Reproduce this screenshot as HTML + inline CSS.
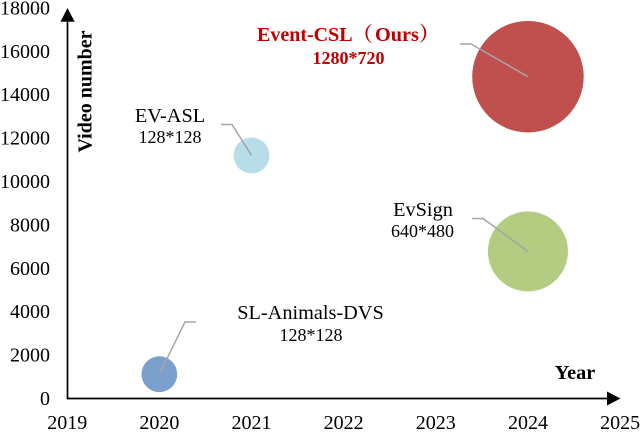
<!DOCTYPE html>
<html lang="en">
<head>
<meta charset="utf-8">
<title>Video number by year</title>
<style>
html,body{margin:0;padding:0;background:#fff;}
body{width:640px;height:432px;overflow:hidden;}
svg{display:block;filter:blur(0.35px);}
text{font-family:"Liberation Serif","Noto Serif CJK SC",serif;fill:#000;}
</style>
</head>
<body>
<svg id="chart" width="640" height="432" viewBox="0 0 640 432" xmlns="http://www.w3.org/2000/svg"></svg>
<script>
const yearTicks = [2019, 2020, 2021, 2022, 2023, 2024, 2025];
const videoTicks = [0, 2000, 4000, 6000, 8000, 10000, 12000, 14000, 16000, 18000];
const seriesNames = ["sl-animals-dvs", "ev-asl", "evsign", "event-csl"];
const seriesYears = [2020, 2021, 2024, 2024];
const seriesVideos = [1120, 11200, 6780, 14830];
const seriesSizes = [1, 1, 5, 9.7];

const seriesColors = ["#7ba0cd", "#b7dde8", "#b3cc82", "#c0504d"];
const leaderElbows = [[185, 322, 196, 322], [232, 124.5, 221, 124.5], [483, 218.5, 472, 218.5], [471, 44, 460, 44]];

const NS = "http://www.w3.org/2000/svg";
const svg = document.getElementById("chart");
const xScale = v => 67.2 + (v - 2019) * 92.15;
const yScale = v => 398.5 - v * 0.0217;
const rScale = s => 17.9 * Math.sqrt(s);

function make(tag, attrs, text) {
  const el = document.createElementNS(NS, tag);
  for (const k in attrs) el.setAttribute(k, attrs[k]);
  if (text !== undefined) el.textContent = text;
  svg.appendChild(el);
  return el;
}

seriesNames.forEach((name, i) => {
  const c = make("circle", {cx: xScale(seriesYears[i]), cy: yScale(seriesVideos[i]), r: rScale(seriesSizes[i]), fill: seriesColors[i]});
  
  
});

seriesNames.forEach((name, i) => {
  const e = leaderElbows[i];
  const p = make("polyline", {points: xScale(seriesYears[i]) + "," + yScale(seriesVideos[i]) + " " + e[0] + "," + e[1] + " " + e[2] + "," + e[3], fill: "none", stroke: "#a6a6a6", "stroke-width": 1.5});
  
  
});

const yAxis = make("line", {x1: 67.5, y1: 18, x2: 67.5, y2: 399.3, stroke: "#000", "stroke-width": 1.7});


const xAxis = make("line", {x1: 67, y1: 398.5, x2: 610, y2: 398.5, stroke: "#000", "stroke-width": 1.7});


const yArrow = make("polygon", {points: "67.5,8 74.7,21.7 60.5,21.7", fill: "#000"});


const xArrow = make("polygon", {points: "620.5,398.5 607,391.5 607,405.5", fill: "#000"});



videoTicks.forEach(v => {
  const t = make("text", {x: 50, y: yScale(v) + 6.5, "text-anchor": "end", "font-size": 20}, String(v));
  
  
});
yearTicks.forEach(v => {
  const t = make("text", {x: xScale(v), y: 429, "text-anchor": "middle", "font-size": 20}, String(v));
  
  
});

const yTitle = make("text", {transform: "translate(91.5,91.5) rotate(-90)", "text-anchor": "middle", "font-size": 20, "font-weight": "bold"}, "Video number");


const xTitle = make("text", {x: 575, y: 379, "text-anchor": "middle", "font-size": 20.3, "font-weight": "bold"}, "Year");



const l1 = make("text", {x: 170, y: 122, "text-anchor": "middle", "font-size": 20.3}, "EV-ASL");


const l2 = make("text", {x: 170, y: 143, "text-anchor": "middle", "font-size": 18}, "128*128");


const l3 = make("text", {x: 257, y: 41, "font-size": 20, "font-weight": "bold", style: "fill:#c00000"}, "Event-CSL（");


const l3b = make("text", {x: 375, y: 41, "font-size": 20.3, "font-weight": "bold", style: "fill:#c00000"}, "Ours）");


const l4 = make("text", {x: 348.5, y: 64, "text-anchor": "middle", "font-size": 18, "font-weight": "bold", style: "fill:#c00000"}, "1280*720");


const l5 = make("text", {x: 423, y: 216, "text-anchor": "middle", "font-size": 20.3}, "EvSign");


const l6 = make("text", {x: 422.5, y: 237, "text-anchor": "middle", "font-size": 18}, "640*480");


const l7 = make("text", {x: 310.5, y: 319, "text-anchor": "middle", "font-size": 20.3}, "SL-Animals-DVS");


const l8 = make("text", {x: 311, y: 341, "text-anchor": "middle", "font-size": 18}, "128*128");


</script>
</body>
</html>
